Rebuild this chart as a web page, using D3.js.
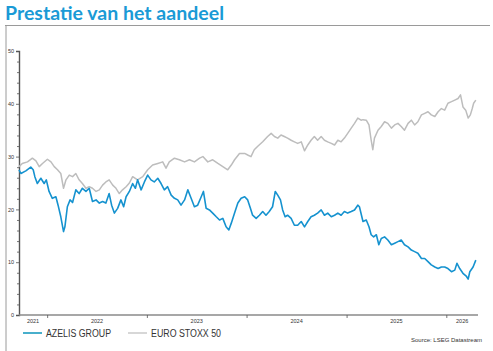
<!DOCTYPE html>
<html>
<head>
<meta charset="utf-8">
<script src="https://cdn.jsdelivr.net/npm/d3@7"></script>
<style>
  html, body { margin: 0; padding: 0; background: #fff; }
  svg { display: block; }
</style>
</head>
<body>
<svg id="chart" width="493" height="351"></svg>
<script>
// AZELIS GROUP koers (EUR)
const azelisDates = ["2021-09-20","2021-09-27","2021-10-15","2021-11-02","2021-11-11","2021-11-17","2021-11-26","2021-12-09","2021-12-21","2021-12-29",
  "2022-01-08","2022-01-20","2022-02-02","2022-02-10","2022-02-20","2022-03-02","2022-03-07","2022-03-16","2022-03-26","2022-04-04",
  "2022-04-16","2022-04-28","2022-05-10","2022-05-23","2022-06-04","2022-06-16","2022-06-29","2022-07-11","2022-07-23","2022-08-04",
  "2022-08-16","2022-08-25","2022-09-04","2022-09-16","2022-09-28","2022-10-08","2022-10-17","2022-10-29","2022-11-10","2022-11-20",
  "2022-11-28","2022-12-11","2022-12-23","2023-01-04","2023-01-16","2023-01-28","2023-02-10","2023-02-22","2023-03-06","2023-03-18",
  "2023-03-31","2023-04-12","2023-04-24","2023-05-06","2023-05-19","2023-05-31","2023-06-12","2023-06-24","2023-07-06","2023-07-19",
  "2023-07-27","2023-08-06","2023-08-18","2023-08-30","2023-09-12","2023-09-24","2023-10-06","2023-10-18","2023-10-28","2023-11-06",
  "2023-11-18","2023-11-30","2023-12-12","2023-12-25","2024-01-05","2024-01-15","2024-01-23","2024-02-05","2024-02-17","2024-02-29",
  "2024-03-12","2024-03-24","2024-04-05","2024-04-15","2024-04-24","2024-05-04","2024-05-12","2024-05-21","2024-05-30","2024-06-12",
  "2024-06-24","2024-07-06","2024-07-19","2024-07-31","2024-08-12","2024-08-24","2024-09-05","2024-09-17","2024-09-30","2024-10-12",
  "2024-10-24","2024-11-06","2024-11-18","2024-11-30","2024-12-12","2024-12-24","2025-01-05","2025-01-18","2025-01-30","2025-02-11",
  "2025-02-17","2025-03-02","2025-03-14","2025-03-24","2025-04-01","2025-04-10","2025-04-20","2025-04-29","2025-05-08","2025-05-20",
  "2025-06-01","2025-06-14","2025-06-26","2025-07-08","2025-07-20","2025-08-01","2025-08-14","2025-08-26","2025-09-07","2025-09-19",
  "2025-10-02","2025-10-14","2025-10-26","2025-11-07","2025-11-20","2025-12-02","2025-12-14","2025-12-26","2026-01-07","2026-01-20",
  "2026-02-01","2026-02-09","2026-02-19","2026-03-03","2026-03-16","2026-03-22","2026-03-28","2026-04-09","2026-04-19"];
const azelisValues = [27.5,26.8,27.3,28.0,27.5,26.2,24.9,25.9,24.9,25.6,
  23.4,22.1,22.4,20.8,18.6,15.8,16.7,20.5,21.8,21.3,
  23.7,23.0,24.0,23.4,24.0,21.5,21.8,21.2,21.5,21.2,
  23.0,20.8,19.3,20.2,21.8,20.5,22.4,23.4,24.9,24.0,
  25.6,23.7,25.2,26.5,25.6,25.2,25.9,24.9,23.7,24.3,
  22.7,22.1,21.8,20.8,21.8,23.7,22.1,20.5,20.8,22.4,
  23.4,20.2,19.9,19.3,18.6,18.0,18.3,16.7,16.1,17.4,
  19.3,21.2,22.1,22.4,21.8,20.2,18.9,18.3,18.9,19.6,
  18.9,19.6,20.5,23.4,22.7,21.8,19.9,18.6,18.9,18.3,
  17.0,17.0,17.7,16.7,17.7,18.6,18.9,19.3,19.9,18.9,
  19.3,18.6,18.9,19.3,18.9,19.6,19.3,19.6,19.9,20.8,
  20.5,17.7,18.0,16.7,15.2,14.8,15.2,13.3,14.5,14.8,
  14.2,13.3,13.6,13.9,14.2,13.3,12.9,12.3,12.0,11.7,
  10.7,10.7,10.1,9.5,9.1,8.8,9.1,9.1,8.8,8.2,
  8.5,9.8,8.8,7.9,7.3,6.8,8.2,9.1,10.4];

// EURO STOXX 50, herschaald
const stoxxDates = ["2021-09-20","2021-10-02","2021-10-21","2021-11-08","2021-11-21","2021-12-03","2021-12-15","2022-01-02","2022-01-15","2022-01-27",
  "2022-02-08","2022-02-20","2022-03-02","2022-03-11","2022-03-23","2022-04-04","2022-04-16","2022-04-28","2022-05-10","2022-05-23",
  "2022-06-04","2022-06-16","2022-06-29","2022-07-11","2022-07-23","2022-08-04","2022-08-16","2022-08-29","2022-09-10","2022-09-22",
  "2022-10-04","2022-10-17","2022-10-29","2022-11-10","2022-11-28","2022-12-17","2023-01-04","2023-01-22","2023-02-10","2023-02-28",
  "2023-03-12","2023-03-24","2023-04-12","2023-04-30","2023-05-19","2023-06-06","2023-06-24","2023-07-13","2023-07-25","2023-08-12",
  "2023-08-30","2023-09-18","2023-10-06","2023-10-24","2023-11-06","2023-11-18","2023-12-06","2023-12-25","2024-01-05","2024-01-17",
  "2024-01-29","2024-02-10","2024-02-29","2024-03-18","2024-03-31","2024-04-12","2024-04-24","2024-05-06","2024-05-18","2024-05-30",
  "2024-06-12","2024-06-24","2024-07-06","2024-07-19","2024-07-31","2024-08-12","2024-08-24","2024-09-05","2024-09-17","2024-09-30",
  "2024-10-12","2024-10-24","2024-11-06","2024-11-18","2024-11-30","2024-12-12","2024-12-24","2025-01-05","2025-01-18","2025-01-30",
  "2025-02-11","2025-02-23","2025-03-02","2025-03-14","2025-03-24","2025-04-01","2025-04-07","2025-04-13","2025-04-26","2025-05-08",
  "2025-05-20","2025-06-01","2025-06-14","2025-06-26","2025-07-08","2025-07-20","2025-08-01","2025-08-14","2025-08-26","2025-09-07",
  "2025-09-19","2025-10-02","2025-10-14","2025-10-26","2025-11-07","2025-11-20","2025-12-02","2025-12-14","2025-12-26","2026-01-07",
  "2026-01-20","2026-02-01","2026-02-13","2026-02-22","2026-03-03","2026-03-13","2026-03-22","2026-03-30","2026-04-06","2026-04-11",
  "2026-04-19"];
const stoxxValues = [28.1,28.7,29.0,29.7,29.2,28.1,28.7,29.5,29.0,28.1,
  27.5,26.8,24.0,25.6,26.5,26.2,26.8,25.6,24.9,24.0,
  24.3,24.0,23.4,23.7,24.6,25.2,25.6,24.6,24.0,23.0,
  23.7,24.3,25.0,26.2,25.6,26.2,27.5,28.4,28.7,29.0,
  27.8,29.0,29.7,29.4,29.0,29.4,29.0,29.7,30.0,29.0,
  29.4,28.7,28.1,27.5,28.4,29.4,30.6,30.6,30.3,30.0,
  31.3,31.9,32.8,33.8,34.4,33.8,33.5,34.1,33.8,33.5,
  33.1,32.8,32.5,32.8,31.1,32.2,33.1,33.8,33.1,33.8,
  33.1,32.8,32.5,32.2,33.1,32.8,33.5,34.4,35.4,36.3,
  37.3,36.9,37.0,36.9,36.0,33.1,31.3,33.5,35.0,35.7,
  36.6,36.3,35.4,36.0,36.3,35.7,35.0,36.3,36.9,36.0,
  36.6,37.9,38.2,38.5,37.9,37.6,38.5,39.1,38.8,40.1,
  40.4,40.7,41.0,41.7,39.4,38.8,37.3,37.9,39.1,40.1,
  40.7];

const yLabelTicks = [0, 10, 20, 30, 40, 50];
const yearTicks = ["2022-01-01", "2023-01-01", "2024-01-01", "2025-01-01", "2026-01-01"];
const yearLabels = ["2021", "2022", "2023", "2024", "2025", "2026"];
const seriesNames = ["AZELIS GROUP", "EURO STOXX 50"];

const blue = "#1592cf", grey = "#bdbdbd";
const parse = d3.utcParse("%Y-%m-%d");

const svg = d3.select("#chart");

// titel + kader
svg.append("text")
    .attr("x", 5).attr("y", 20)
    .attr("font-family", "Lato, 'Open Sans', sans-serif")
    .attr("font-weight", "bold")
    .attr("font-size", 19)
    .attr("fill", "#1a9ad6")
    .attr("textLength", 219)
    .attr("lengthAdjust", "spacingAndGlyphs")
    .text("Prestatie van het aandeel");

svg.append("line").attr("x1", 5).attr("x2", 490).attr("y1", 25.5).attr("y2", 25.5)
    .attr("stroke", "#9a9a9a").attr("stroke-width", 1.2);
svg.append("line").attr("x1", 6).attr("x2", 6).attr("y1", 25).attr("y2", 351)
    .attr("stroke", "#9a9a9a").attr("stroke-width", 1);

const x = d3.scaleUtc()
    .domain([parse("2021-09-20"), parse("2026-04-27")])
    .range([19, 478]);
const y = d3.scaleLinear().domain([0, 50]).range([315, 51]);

const g = svg.append("g");

// y-as
const yAxis = g.append("g")
    .attr("transform", "translate(19,0)")
    .call(d3.axisLeft(y).tickValues(d3.range(0, 51, 2)).tickSize(3)
      .tickFormat(d => yLabelTicks.includes(d) ? d : ""));
yAxis.select(".domain").attr("stroke", "#555").attr("stroke-width", 1.4);
yAxis.selectAll(".tick line").attr("stroke", "#555").attr("stroke-width", 0.8)
    .attr("x2", d => yLabelTicks.includes(d) ? -3 : -2);
yAxis.selectAll(".tick text")
    .attr("x", -5).attr("font-size", 5.5).attr("fill", "#333")
    .attr("font-family", "'Liberation Sans', Arial, sans-serif");

// x-as
const xAxis = g.append("g")
    .attr("transform", "translate(0,315)")
    .call(d3.axisBottom(x).tickValues(yearTicks.map(parse)).tickSize(3).tickFormat(""));
xAxis.select(".domain").attr("stroke", "#8a8a8a").attr("stroke-width", 1.6)
    .attr("d", "M19,0H478");
xAxis.selectAll(".tick line").attr("stroke", "#555").attr("stroke-width", 0.8);

const [d0, d1] = x.domain();
g.selectAll(".yearlabel")
  .data(yearLabels)
  .enter().append("text")
    .attr("class", "yearlabel")
    .attr("x", d => {
      const a = new Date(Math.max(Date.UTC(+d, 0, 1), d0));
      const b = new Date(Math.min(Date.UTC(+d + 1, 0, 1), d1));
      return (x(a) + x(b)) / 2;
    })
    .attr("y", 323)
    .attr("text-anchor", "middle")
    .attr("font-size", 5.5)
    .attr("fill", "#333")
    .attr("font-family", "'Liberation Sans', Arial, sans-serif")
    .text(d => d);

// lijnen
const line = d3.line()
    .x(d => x(d[0]))
    .y(d => y(d[1]));

const stoxx = stoxxDates.map((d, i) => [parse(d), stoxxValues[i]]);
const azelis = azelisDates.map((d, i) => [parse(d), azelisValues[i]]);

g.append("path").datum(stoxx)
    .attr("fill", "none").attr("stroke", grey).attr("stroke-width", 1.5)
    .attr("stroke-linejoin", "round")
    .attr("d", line);
g.append("path").datum(azelis)
    .attr("fill", "none").attr("stroke", blue).attr("stroke-width", 1.6)
    .attr("stroke-linejoin", "round")
    .attr("d", line);

// legende
const legend = svg.append("g").attr("transform", "translate(23,333)");
const items = legend.selectAll("g")
  .data(seriesNames)
  .enter().append("g")
    .attr("transform", (d, i) => "translate(" + (i * 105) + ",0)");
items.append("line")
    .attr("x1", 0).attr("x2", 19).attr("y1", 0).attr("y2", 0)
    .attr("stroke", (d, i) => i === 0 ? "#1a9bbf" : grey)
    .attr("stroke-width", (d, i) => i === 0 ? 1.6 : 1.2);
items.append("text")
    .attr("x", 23).attr("y", 3.5)
    .attr("font-size", 10)
    .attr("fill", "#333")
    .attr("font-family", "'Liberation Sans', Arial, sans-serif")
    .attr("textLength", (d, i) => i === 0 ? 65 : 70)
    .attr("lengthAdjust", "spacingAndGlyphs")
    .text(d => d);

svg.append("text")
    .attr("x", 482).attr("y", 342)
    .attr("text-anchor", "end")
    .attr("font-size", 6)
    .attr("fill", "#333")
    .attr("font-family", "'Liberation Sans', Arial, sans-serif")
    .text("Source: LSEG Datastream");
</script>
</body>
</html>
